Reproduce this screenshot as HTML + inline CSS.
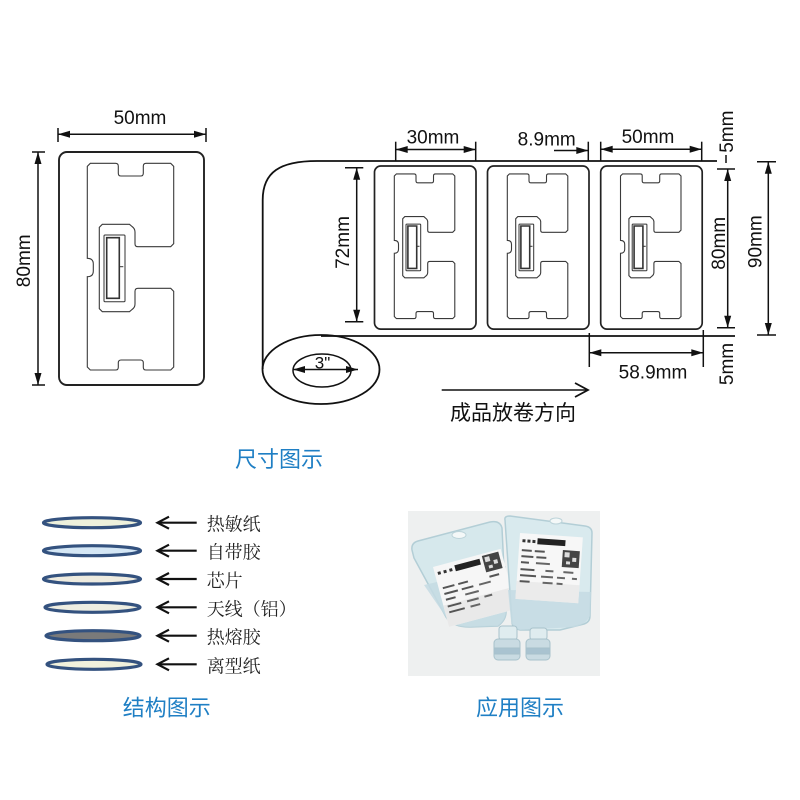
<!DOCTYPE html>
<html><head><meta charset="utf-8"><style>
html,body{margin:0;padding:0;background:#fff;}
svg{display:block;}
.d{font-family:"Liberation Sans",Arial,sans-serif;font-size:19px;fill:#111;}
.cap{font-family:"Liberation Sans","Noto Sans CJK SC",sans-serif;font-size:22px;fill:#1f7fc4;}
.lay{font-family:"Liberation Serif","Noto Serif CJK SC",serif;font-size:18px;fill:#222;}
</style></head><body>
<svg width="800" height="800" viewBox="0 0 800 800" xmlns="http://www.w3.org/2000/svg">
<defs>
  <g id="ant">
    <path d="M31.3,11.3 L56.5,11.3 Q59.3,11.3 59.3,14.1 L59.3,21.2 Q59.3,24 62.1,24 L81.5,24 Q84.3,24 84.3,21.2 L84.3,14.1 Q84.3,11.3 87.1,11.3 L111.7,11.3 L114.7,14.3 L114.7,91.7 L111.7,94.7 L79,94.7 Q76,94.7 76,91.7 L76,80 Q76,76.5 73,74.5 L70.5,72.3 L43.3,72.3 L40.3,75.3 L40.3,156.7 L43.3,159.7 L70.5,159.7 L73,157.5 Q76,155.5 76,152 L76,139.3 Q76,136.3 79,136.3 L111.7,136.3 L114.7,139.3 L114.7,215 L111.7,218 L87.1,218 Q84.3,218 84.3,215.2 L84.3,210.8 Q84.3,208 81.5,208 L62.1,208 Q59.3,208 59.3,210.8 L59.3,215.2 Q59.3,218 56.5,218 L31.3,218 L28.3,215 L28.3,124.7 Q34.3,124.7 34.3,119 L34.3,112 Q34.3,106.3 28.3,106.3 L28.3,14.3 Z" fill="none" stroke="#3a3a3a" stroke-width="1.1" vector-effect="non-scaling-stroke"/>
    <rect x="45" y="83" width="21" height="66.7" rx="1" fill="none" stroke="#333" stroke-width="1" vector-effect="non-scaling-stroke"/>
    <rect x="47.7" y="85.7" width="12.6" height="60.6" fill="#fff" stroke="#333" stroke-width="1.6" vector-effect="non-scaling-stroke"/>
    <line x1="60.3" y1="114.7" x2="64.3" y2="114.7" stroke="#333" stroke-width="1" vector-effect="non-scaling-stroke"/>
  </g>
  <g id="lbl">
    <rect x="0" y="0" width="145" height="233" rx="9" fill="none" stroke="#222" stroke-width="1.7" vector-effect="non-scaling-stroke"/>
    <use href="#ant"/>
  </g>
</defs>

<!-- Left single label -->
<g transform="translate(59,152)">
  <rect x="0" y="0" width="145" height="233" rx="8" fill="none" stroke="#222" stroke-width="1.9"/>
  <use href="#ant"/>
</g>

<g stroke="#111" stroke-width="1.5" fill="none">
  <line x1="58" y1="128" x2="58" y2="142"/><line x1="206" y1="128" x2="206" y2="142"/>
  <line x1="58" y1="134.3" x2="206" y2="134.3"/>
  <line x1="32" y1="152" x2="45" y2="152"/><line x1="32" y1="385" x2="45" y2="385"/>
  <line x1="38" y1="152" x2="38" y2="385"/>
  <line x1="345" y1="167.7" x2="363.3" y2="167.7"/><line x1="345" y1="321.7" x2="363.3" y2="321.7"/>
  <line x1="356.7" y1="167.7" x2="356.7" y2="321.7"/>
  <line x1="395.7" y1="141.7" x2="395.7" y2="161"/><line x1="475.7" y1="141.7" x2="475.7" y2="161"/>
  <line x1="395.7" y1="149.5" x2="475.7" y2="149.5"/>
  <line x1="588.3" y1="141.7" x2="588.3" y2="161"/>
  <line x1="554" y1="150.5" x2="588.3" y2="150.5"/>
  <line x1="600.7" y1="141.7" x2="600.7" y2="161"/><line x1="701.7" y1="141.7" x2="701.7" y2="161"/>
  <line x1="600.7" y1="149.3" x2="701.7" y2="149.3"/>
  <line x1="726" y1="155" x2="726" y2="163"/>
  <line x1="717" y1="169" x2="735" y2="169"/><line x1="717" y1="327.7" x2="735" y2="327.7"/>
  <line x1="727.7" y1="169" x2="727.7" y2="327.7"/>
  <line x1="757" y1="161.7" x2="776" y2="161.7"/><line x1="757" y1="335" x2="776" y2="335"/>
  <line x1="768.3" y1="161.7" x2="768.3" y2="335"/>
  <line x1="589.3" y1="333" x2="589.3" y2="367"/><line x1="703.3" y1="330" x2="703.3" y2="367"/>
  <line x1="589.3" y1="352.7" x2="703.3" y2="352.7"/>
  <line x1="293" y1="369.5" x2="358" y2="369.5"/>
  <line x1="441.7" y1="390" x2="587" y2="390"/>
  <polyline points="575,383 588,390 575,397" stroke-width="1.8"/>
</g>

<g fill="#111">
  <polygon points="58,134.3 70,130.8 70,137.8"/><polygon points="206,134.3 194,130.8 194,137.8"/>
  <polygon points="38,152 34.5,164 41.5,164"/><polygon points="38,385 34.5,373 41.5,373"/>
  <polygon points="356.7,167.7 353.2,179.7 360.2,179.7"/><polygon points="356.7,321.7 353.2,309.7 360.2,309.7"/>
  <polygon points="395.7,149.5 407.7,146 407.7,153"/><polygon points="475.7,149.5 463.7,146 463.7,153"/>
  <polygon points="588.3,150.5 576.3,147 576.3,154"/>
  <polygon points="600.7,149.3 612.7,145.8 612.7,152.8"/><polygon points="701.7,149.3 689.7,145.8 689.7,152.8"/>
  <polygon points="727.7,169 724.2,181 731.2,181"/><polygon points="727.7,327.7 724.2,315.7 731.2,315.7"/>
  <polygon points="768.3,161.7 764.8,173.7 771.8,173.7"/><polygon points="768.3,335 764.8,323 771.8,323"/>
  <polygon points="589.3,352.7 601.3,349.2 601.3,356.2"/><polygon points="703.3,352.7 691.3,349.2 691.3,356.2"/>
  <polygon points="293,369.5 305,366 305,373"/><polygon points="358,369.5 346,366 346,373"/>
</g>

<g fill="none" stroke="#111" stroke-width="1.8">
  <path d="M717,161 L317,161 C280,161 262.7,172 262.7,200 L262.7,369"/>
  <line x1="321" y1="336" x2="735" y2="336"/>
  <ellipse cx="321" cy="369.5" rx="58.5" ry="34.5"/>
  <ellipse cx="322" cy="370.5" rx="29" ry="16.5" stroke-width="1.5"/>
</g>

<use href="#lbl" transform="translate(374.5,166) scale(0.7)"/>
<use href="#lbl" transform="translate(487.5,166) scale(0.7)"/>
<use href="#lbl" transform="translate(600.7,166) scale(0.7)"/>

<text class="d" x="140" y="124" text-anchor="middle">50mm</text>
<text class="d" transform="translate(30,260.8) rotate(-90)" text-anchor="middle">80mm</text>
<text class="d" transform="translate(349,242.5) rotate(-90)" text-anchor="middle">72mm</text>
<text class="d" x="433" y="143.3" text-anchor="middle">30mm</text>
<text class="d" x="546.7" y="145.5" text-anchor="middle">8.9mm</text>
<text class="d" x="648" y="143" text-anchor="middle">50mm</text>
<text class="d" transform="translate(733,131.7) rotate(-90)" text-anchor="middle">5mm</text>
<text class="d" transform="translate(725,243.3) rotate(-90)" text-anchor="middle">80mm</text>
<text class="d" transform="translate(761.7,241.7) rotate(-90)" text-anchor="middle">90mm</text>
<text class="d" transform="translate(733,364) rotate(-90)" text-anchor="middle">5mm</text>
<text class="d" x="653" y="378.5" text-anchor="middle">58.9mm</text>
<text class="d" x="322.5" y="368.3" text-anchor="middle" style="font-size:17px">3"</text>
<text x="450" y="420" style="font-family:'Liberation Sans','Noto Sans CJK SC',sans-serif;font-size:21px;fill:#111">成品放卷方向</text>

<text class="cap" x="235" y="467">尺寸图示</text>
<text class="cap" x="122.7" y="715.5">结构图示</text>
<text class="cap" x="476" y="715.5">应用图示</text>

<g stroke="#34527f" stroke-width="3.2">
  <ellipse cx="92" cy="522.7" rx="48.5" ry="5" fill="#eef1dc"/>
  <ellipse cx="92" cy="550.7" rx="48.5" ry="5" fill="#d5e7f5"/>
  <ellipse cx="92" cy="579" rx="48.5" ry="5" fill="#eeebdf"/>
  <ellipse cx="92.5" cy="607.3" rx="47.5" ry="5" fill="#eeeee2"/>
  <ellipse cx="93" cy="635.7" rx="47" ry="5" fill="#7a7a7a"/>
  <ellipse cx="94" cy="664.3" rx="47" ry="5" fill="#f1f1dc"/>
</g>
<g stroke="#111" stroke-width="2.2" fill="none">
  <line x1="158" y1="522.7" x2="196.7" y2="522.7"/><polyline points="169,516.7 157.5,522.7 169,528.7"/>
  <line x1="158" y1="550.7" x2="196.7" y2="550.7"/><polyline points="169,544.7 157.5,550.7 169,556.7"/>
  <line x1="158" y1="579" x2="196.7" y2="579"/><polyline points="169,573 157.5,579 169,585"/>
  <line x1="158" y1="607.3" x2="196.7" y2="607.3"/><polyline points="169,601.3 157.5,607.3 169,613.3"/>
  <line x1="158" y1="635.7" x2="196.7" y2="635.7"/><polyline points="169,629.7 157.5,635.7 169,641.7"/>
  <line x1="158" y1="664.3" x2="196.7" y2="664.3"/><polyline points="169,658.3 157.5,664.3 169,670.3"/>
</g>
<text class="lay" x="206.7" y="530.5">热敏纸</text>
<text class="lay" x="206.7" y="558.5">自带胶</text>
<text class="lay" x="206.7" y="587">芯片</text>
<text class="lay" x="206.7" y="615.3">天线（铝）</text>
<text class="lay" x="206.7" y="643.7">热熔胶</text>
<text class="lay" x="206.7" y="672.3">离型纸</text>

<!-- Photo -->
<rect x="408" y="511" width="192" height="165" fill="#eef0f0"/>
<!-- left bag -->
<path d="M412,550 Q411,543 418,541 L490,522 Q500,520 502,528 L506,612 Q506,620 498,626 L470,627 Q452,627 446,617 L414,558 Z" fill="#d6e8ec" stroke="#b3ced6" stroke-width="1.5"/>
<path d="M424,585 L506,566 L506,612 Q506,620 498,626 L470,627 Q452,627 446,617 Z" fill="#c4dbe3" opacity="0.85"/>
<ellipse cx="459" cy="535" rx="7" ry="3.5" fill="#f4f8f8" stroke="#bcd3d9"/>
<g transform="translate(433,567) rotate(-15)">
  <rect x="0" y="0" width="70" height="62" fill="#f6f6f6"/>
  <rect x="0" y="40" width="70" height="22" fill="#e4e4e4" opacity="0.7"/>
  <rect x="3" y="6" width="3" height="3" fill="#333"/><rect x="9" y="6" width="3" height="3" fill="#333"/><rect x="15" y="6" width="3" height="3" fill="#333"/>
  <rect x="21" y="4" width="26" height="6" fill="#222"/>
  <rect x="50" y="2" width="17" height="17" fill="#444"/>
  <rect x="52" y="4" width="5" height="5" fill="#ddd"/><rect x="60" y="9" width="4" height="4" fill="#ddd"/><rect x="54" y="13" width="4" height="3" fill="#ddd"/>
  <rect x="4" y="22" width="12" height="2" fill="#555"/><rect x="20" y="22" width="10" height="2" fill="#555"/><rect x="52" y="23" width="10" height="2" fill="#555"/>
  <rect x="4" y="28" width="14" height="2" fill="#555"/><rect x="22" y="28" width="12" height="2" fill="#555"/><rect x="40" y="28" width="12" height="2" fill="#666"/>
  <rect x="4" y="34" width="10" height="2" fill="#555"/><rect x="24" y="34" width="14" height="2" fill="#666"/>
  <rect x="4" y="41" width="14" height="2" fill="#555"/><rect x="24" y="41" width="12" height="2" fill="#666"/><rect x="42" y="41" width="8" height="2" fill="#666"/>
  <rect x="4" y="47" width="16" height="2" fill="#555"/><rect x="26" y="47" width="10" height="2" fill="#666"/>
</g>
<!-- right bag -->
<path d="M505,520 Q504,516 510,516 L585,526 Q592,527 592,533 L590,616 Q590,622 584,624 L560,630 L520,630 Q512,628 512,622 Z" fill="#d9eaee" stroke="#b3ced6" stroke-width="1.5"/>
<path d="M508,590 L591,592 L590,616 Q586,624 575,627 L520,630 Q512,628 511,620 Z" fill="#c4dbe3" opacity="0.85"/>
<ellipse cx="556" cy="521" rx="6" ry="3" fill="#f4f8f8" stroke="#bcd3d9"/>
<g transform="translate(520,533) rotate(4)">
  <rect x="0" y="0" width="63" height="66" fill="#f7f7f7"/>
  <rect x="0" y="48" width="63" height="18" fill="#e6e6e6" opacity="0.7"/>
  <rect x="3" y="6" width="3" height="3" fill="#333"/><rect x="8" y="6" width="3" height="3" fill="#333"/><rect x="13" y="6" width="3" height="3" fill="#333"/>
  <rect x="18" y="4" width="28" height="6" fill="#222"/>
  <rect x="44" y="14" width="17" height="17" fill="#444"/>
  <rect x="46" y="16" width="5" height="5" fill="#ddd"/><rect x="54" y="21" width="4" height="4" fill="#ddd"/><rect x="48" y="25" width="4" height="3" fill="#ddd"/>
  <rect x="3" y="16" width="10" height="2" fill="#555"/><rect x="16" y="16" width="10" height="2" fill="#555"/>
  <rect x="3" y="22" width="12" height="2" fill="#555"/><rect x="18" y="22" width="10" height="2" fill="#555"/>
  <rect x="3" y="28" width="8" height="2" fill="#555"/><rect x="18" y="28" width="14" height="2" fill="#666"/>
  <rect x="3" y="35" width="14" height="2" fill="#555"/><rect x="28" y="35" width="8" height="2" fill="#666"/><rect x="46" y="35" width="10" height="2" fill="#666"/>
  <rect x="3" y="41" width="16" height="2" fill="#555"/><rect x="24" y="41" width="12" height="2" fill="#666"/><rect x="40" y="41" width="8" height="2" fill="#666"/><rect x="55" y="41" width="5" height="2" fill="#666"/>
  <rect x="3" y="47" width="10" height="2" fill="#555"/><rect x="26" y="47" width="10" height="2" fill="#666"/><rect x="40" y="47" width="6" height="2" fill="#666"/>
</g>
<!-- caps -->
<g stroke="#a8c2cb" stroke-width="1">
  <rect x="499" y="626" width="18" height="14" rx="3" fill="#dfecef"/>
  <rect x="494" y="639" width="26" height="21" rx="4" fill="#c9dbe2"/>
  <rect x="494" y="648" width="26" height="6" fill="#a9c3d0"/>
  <rect x="530" y="628" width="17" height="12" rx="3" fill="#dfecef"/>
  <rect x="526" y="639" width="24" height="21" rx="4" fill="#c9dbe2"/>
  <rect x="526" y="648" width="24" height="6" fill="#a9c3d0"/>
</g>
</svg>
</body></html>
